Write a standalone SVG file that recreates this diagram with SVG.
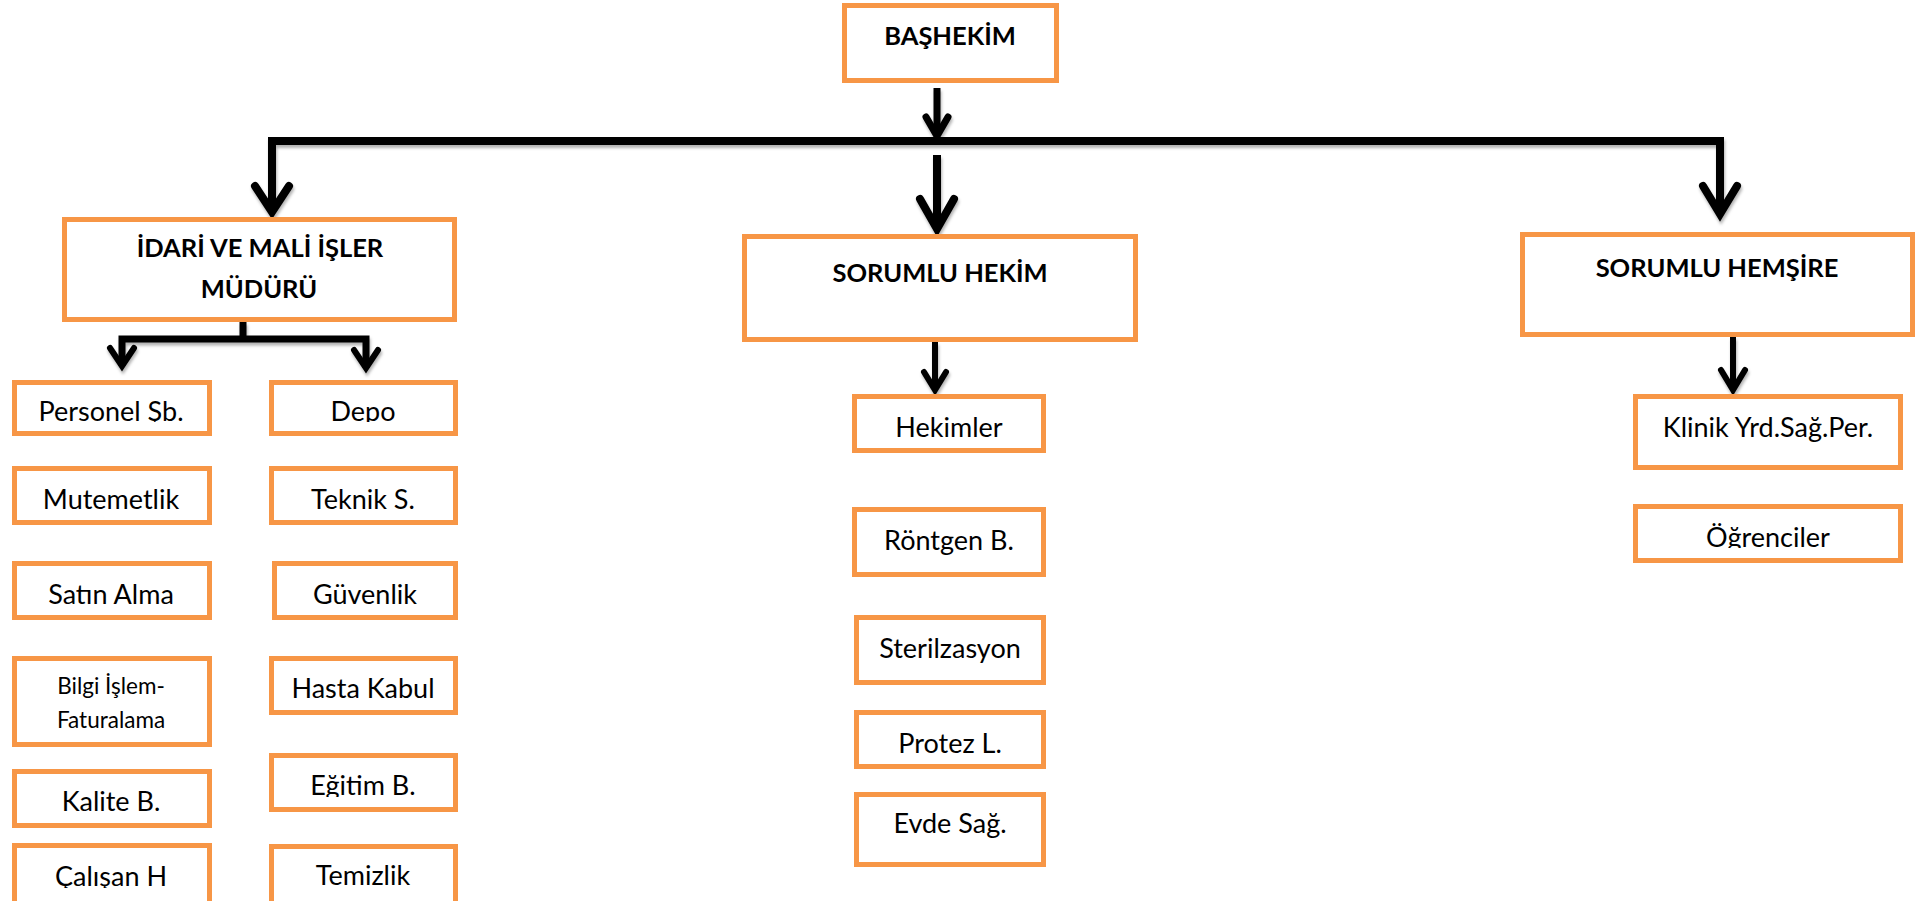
<svg xmlns="http://www.w3.org/2000/svg" width="1924" height="901" viewBox="0 0 1924 901">
<style>
.box{fill:#fff;stroke:#F79646;stroke-width:5}
.t{font-family:Lato,"Liberation Sans",sans-serif;font-size:27px;fill:#000;text-anchor:middle}
.s{font-size:22.5px}
.b{font-weight:bold;font-size:25.5px}
.ln{fill:none;stroke:#000;stroke-linejoin:miter;stroke-linecap:butt}
.ch{fill:none;stroke:#000;stroke-linejoin:miter;stroke-linecap:round}
</style>
<defs>
<filter id="sh" x="-5%" y="-20%" width="110%" height="150%">
<feDropShadow dx="1" dy="3" stdDeviation="1.5" flood-color="#000" flood-opacity="0.3"/>
</filter>
<clipPath id="c1"><rect x="0" y="380" width="480" height="42"/></clipPath>
<clipPath id="c2"><rect x="260" y="753" width="220" height="44"/></clipPath>
<clipPath id="c3"><rect x="1620" y="500" width="300" height="48"/></clipPath>
<clipPath id="c4"><rect x="0" y="840" width="230" height="48"/></clipPath>
</defs>
<rect width="1924" height="901" fill="#fff"/>
<g id="connectors" filter="url(#sh)">
<path class="ln" stroke-width="7" d="M937,88 V136"/>
<path class="ch" stroke-width="7" d="M926,117 L937,136 L948,117"/>
<path class="ln" stroke-width="8" d="M272,212 V141 H1720 V214"/>
<path class="ch" stroke-width="8" d="M255,186 L272,212 L289,186"/>
<path class="ch" stroke-width="8" d="M1703,186 L1720,214 L1737,186"/>
<path class="ln" stroke-width="8" d="M937,155 V229"/>
<path class="ch" stroke-width="8" d="M920,199 L937,229 L954,199"/>
<path class="ln" stroke-width="7" d="M243,322 V339"/>
<path class="ln" stroke-width="7" d="M122,366 V339 H366 V368"/>
<path class="ch" stroke-width="6" d="M110,348 L122,366 L134,348"/>
<path class="ch" stroke-width="6" d="M354,350 L366,368 L378,350"/>
<path class="ln" stroke-width="6" d="M935,342 V390"/>
<path class="ch" stroke-width="6" d="M924,372 L935,390 L946,372"/>
<path class="ln" stroke-width="6" d="M1733,337 V390"/>
<path class="ch" stroke-width="6" d="M1721,370 L1733,390 L1745,370"/>
</g>
<g id="bashekim"><rect class="box" x="844.5" y="5.5" width="212" height="75"/><text class="t b" x="950" y="45">BAŞHEKİM</text></g>
<g id="idari"><rect class="box" x="64.5" y="219.5" width="390" height="100"/><text class="t b" x="260" y="257">İDARİ VE MALİ İŞLER</text><text class="t b" x="259" y="298">MÜDÜRÜ</text></g>
<g id="sorumlu-hekim"><rect class="box" x="744.5" y="236.5" width="391" height="103"/><text class="t b" x="940" y="282">SORUMLU HEKİM</text></g>
<g id="sorumlu-hemsire"><rect class="box" x="1522.5" y="234.5" width="390" height="100"/><text class="t b" x="1717" y="277">SORUMLU HEMŞİRE</text></g>
<g id="personel"><rect class="box" x="14.5" y="382.5" width="195" height="51"/><text class="t" x="111" y="421" clip-path="url(#c1)">Personel Şb.</text></g>
<g id="depo"><rect class="box" x="271.5" y="382.5" width="184" height="51"/><text class="t" x="363" y="421" clip-path="url(#c1)">Depo</text></g>
<g id="mutemetlik"><rect class="box" x="14.5" y="468.5" width="195" height="54"/><text class="t" x="111" y="509">Mutemetlik</text></g>
<g id="teknik"><rect class="box" x="271.5" y="468.5" width="184" height="54"/><text class="t" x="363" y="509">Teknik S.</text></g>
<g id="satin-alma"><rect class="box" x="14.5" y="563.5" width="195" height="54"/><text class="t" x="111" y="604">Satın Alma</text></g>
<g id="guvenlik"><rect class="box" x="274.5" y="563.5" width="181" height="54"/><text class="t" x="365" y="604">Güvenlik</text></g>
<g id="bilgi-islem"><rect class="box" x="14.5" y="658.5" width="195" height="86"/><text class="t s" x="111" y="694">Bilgi İşlem-</text><text class="t s" x="111" y="728">Faturalama</text></g>
<g id="hasta-kabul"><rect class="box" x="271.5" y="658.5" width="184" height="54"/><text class="t" x="363" y="698">Hasta Kabul</text></g>
<g id="kalite"><rect class="box" x="14.5" y="771.5" width="195" height="54"/><text class="t" x="111" y="811">Kalite B.</text></g>
<g id="egitim"><rect class="box" x="271.5" y="755.5" width="184" height="54"/><text class="t" x="363" y="795" clip-path="url(#c2)">Eğitim B.</text></g>
<g id="calisan"><rect class="box" x="14.5" y="845.5" width="195" height="70"/><text class="t" x="111" y="886" clip-path="url(#c4)">Çalışan H</text></g>
<g id="temizlik"><rect class="box" x="271.5" y="846.5" width="184" height="70"/><text class="t" x="363" y="885">Temizlik</text></g>
<g id="hekimler"><rect class="box" x="854.5" y="396.5" width="189" height="54"/><text class="t" x="949" y="437">Hekimler</text></g>
<g id="rontgen"><rect class="box" x="854.5" y="509.5" width="189" height="65"/><text class="t" x="949" y="550">Röntgen B.</text></g>
<g id="sterilzasyon"><rect class="box" x="856.5" y="617.5" width="187" height="65"/><text class="t" x="950" y="658">Sterilzasyon</text></g>
<g id="protez"><rect class="box" x="856.5" y="712.5" width="187" height="54"/><text class="t" x="950" y="753">Protez L.</text></g>
<g id="evde-sag"><rect class="box" x="856.5" y="794.5" width="187" height="70"/><text class="t" x="950" y="833">Evde Sağ.</text></g>
<g id="klinik"><rect class="box" x="1635.5" y="396.5" width="265" height="71"/><text class="t" x="1768" y="437">Klinik Yrd.Sağ.Per.</text></g>
<g id="ogrenciler"><rect class="box" x="1635.5" y="506.5" width="265" height="54"/><text class="t" x="1768" y="547" clip-path="url(#c3)">Öğrenciler</text></g>
</svg>
